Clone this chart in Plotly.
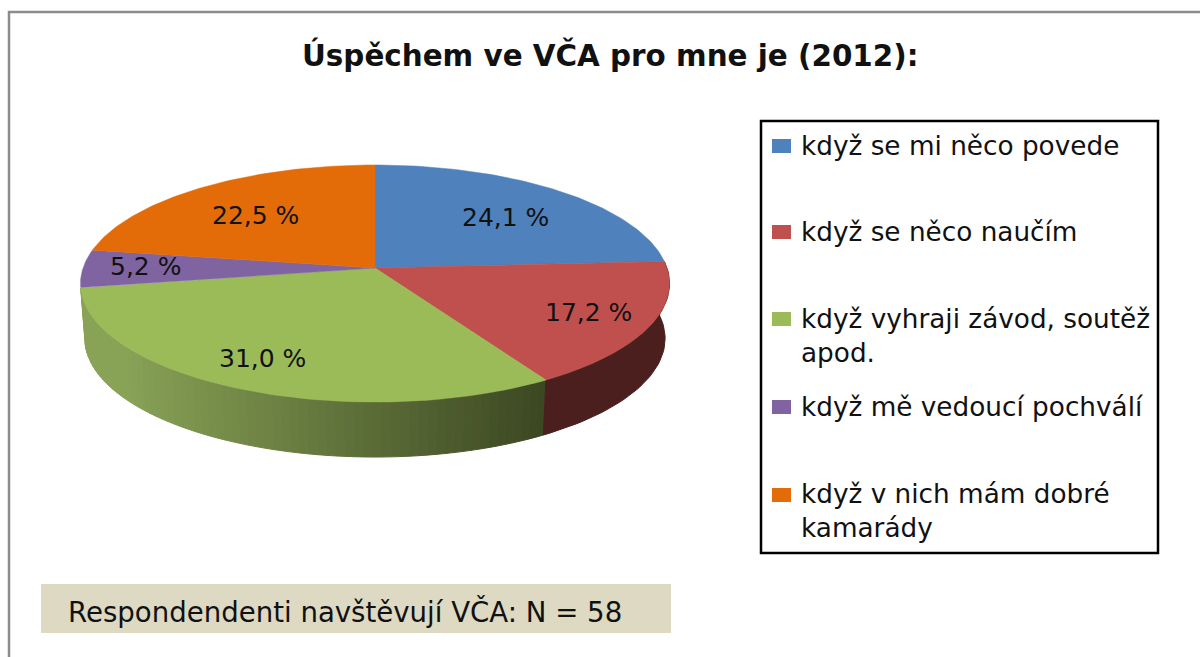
import math
import plotly.graph_objects as go

TITLE = "Úspěchem ve VČA pro mne je (2012):"
CATEGORIES = [
    "když se mi něco povede",
    "když se něco naučím",
    "když vyhraji závod, soutěž<br>apod.",
    "když mě vedoucí pochválí",
    "když v nich mám dobré<br>kamarády",
]
VALUES = [24.1, 17.2, 31.0, 5.2, 22.5]
COLORS = ["#4f81bd", "#c0504d", "#9bbb59", "#8064a2", "#e36c09"]
NOTE = "Respondendenti navštěvují VČA: N = 58"

# geometry of the tilted pie, in pixels
CX, CY, RX, UP, K, DEPTH = 375.0, 268.0, 292.0, 116.5, 0.1308, 55.0
FONT = "DejaVu Sans"
LABEL_POS = [(505, 217), (588, 312), (262, 358), (145, 266), (255, 215)]
LEGEND_Y = [146, 232, 319, 407, 495]
LEGEND_TEXT_Y = [146, 232, 336, 407, 511]


def top_point(theta):
    u, v = math.sin(theta), math.cos(theta)
    x = CX + RX * u / (1 + K * v)
    y = CY - UP * v / (1 + K * v)
    return x, y


def side_point(theta):
    x, y = top_point(theta)
    return CX + (x - CX) * 0.985, y + DEPTH


def lerp(a, b, t):
    return tuple(round(a[i] + (b[i] - a[i]) * t) for i in range(3))


fig = go.Figure()
total = sum(VALUES)
edges = [0.0]
for val in VALUES:
    edges.append(edges[-1] + val / total * 2 * math.pi)

# side wall: green is shaded strip by strip, red is flat and dark
steps = 70
a0, a1 = edges[2], edges[3]
for i in range(steps):
    t0 = a0 + (a1 - a0) * i / steps
    t1 = a0 + (a1 - a0) * (i + 1) / steps
    pts = [top_point(t0), top_point(t1), side_point(t1), side_point(t0)]
    # shade follows the horizontal position: dark at the right, light at the left
    frac = min(1.0, (CX + 170 - pts[0][0]) / 420)
    c = "rgb(%d,%d,%d)" % lerp((60, 72, 34), (136, 162, 86), frac)
    fig.add_trace(go.Scatter(
        x=[p[0] for p in pts] + [pts[0][0]], y=[p[1] for p in pts] + [pts[0][1]],
        mode="lines", fill="toself", fillcolor=c, line=dict(color=c, width=1),
        hoverinfo="skip", showlegend=False))
a0, a1 = edges[1], edges[2]
arc = [a0 + (a1 - a0) * i / 40 for i in range(41)]
pts = [top_point(a) for a in arc] + [side_point(a) for a in reversed(arc)]
fig.add_trace(go.Scatter(
    x=[p[0] for p in pts], y=[p[1] for p in pts], mode="lines", fill="toself",
    fillcolor="#4a1f1d", line=dict(color="#4a1f1d", width=1),
    hoverinfo="skip", showlegend=False))

# top faces
for i, name in enumerate(CATEGORIES):
    a0, a1 = edges[i], edges[i + 1]
    n = 80
    pts = [(CX, CY)] + [top_point(a0 + (a1 - a0) * j / n) for j in range(n + 1)] + [(CX, CY)]
    fig.add_trace(go.Scatter(
        x=[p[0] for p in pts], y=[p[1] for p in pts], mode="lines", fill="toself",
        fillcolor=COLORS[i], line=dict(color=COLORS[i], width=0.5),
        hoverinfo="skip", showlegend=False, name=name.replace("<br>", " ")))

ann = []
shapes = [
    dict(type="path", path="M 9 657 L 9 12 L 1200 12", line=dict(color="#8c8c8c", width=2.5)),
    dict(type="rect", x0=761, y0=121, x1=1158, y1=553, line=dict(color="#000000", width=2.5)),
    dict(type="rect", x0=41, y0=584, x1=671, y1=633, fillcolor="#ddd9c3", line=dict(width=0), layer="below"),
]


def text(x, y, s, size, anchor="center", bold=False, align="left"):
    ann.append(dict(x=x, y=y, xref="x", yref="y", text=s, showarrow=False, xanchor=anchor,
                    yanchor="middle", align=align,
                    font=dict(family=FONT, size=size, color="#111111",
                              weight=700 if bold else 400)))


text(610, 55, TITLE, 29.4, bold=True)
for (x, y), val in zip(LABEL_POS, VALUES):
    text(x, y, f"{val:.1f}".replace(".", ",") + " %", 25)
for i, name in enumerate(CATEGORIES):
    shapes.append(dict(type="rect", x0=772, x1=791, y0=LEGEND_Y[i] - 7, y1=LEGEND_Y[i] + 7,
                       fillcolor=COLORS[i], line=dict(width=0)))
    text(799, LEGEND_TEXT_Y[i], name, 26.3, anchor="left")
text(66, 612, NOTE, 27.6, anchor="left")

fig.update_layout(
    width=1200, height=657, margin=dict(l=0, r=0, t=0, b=0),
    paper_bgcolor="white", plot_bgcolor="white", shapes=shapes, annotations=ann,
    xaxis=dict(range=[0, 1200], visible=False, fixedrange=True),
    yaxis=dict(range=[657, 0], visible=False, fixedrange=True),
    showlegend=False,
)
fig.write_html("out.html", config=dict(displayModeBar=False),
               post_script="document.body.style.margin='0';document.documentElement.style.overflow='hidden';")
